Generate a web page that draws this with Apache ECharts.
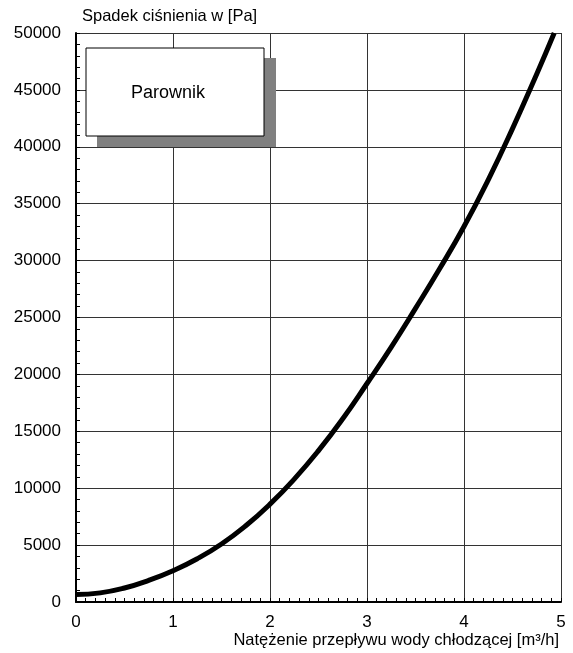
<!DOCTYPE html>
<html>
<head>
<meta charset="utf-8">
<script src="https://cdn.jsdelivr.net/npm/echarts@6/dist/echarts.min.js"></script>
<style>html,body{margin:0;padding:0;background:#fff}#c{width:573px;height:653px}</style>
</head>
<body>
<div id="c"></div>
<script>
var flowX = [0, 0.25, 0.5, 0.75, 1, 1.25, 1.5, 1.75, 2, 2.25, 2.5, 2.75, 3, 3.25, 3.5, 3.75, 4, 4.25, 4.5, 4.75, 4.93];
var pressureDrop = [650, 800, 1230, 1900, 2750, 3800, 5100, 6700, 8600, 10800, 13300, 16100, 19200, 22400, 25800, 29300, 33000, 37100, 41600, 46400, 50000];
var xTicks = [0, 1, 2, 3, 4, 5];
var yTicks = [0, 5000, 10000, 15000, 20000, 25000, 30000, 35000, 40000, 45000, 50000];
var yAxisTitle = 'Spadek ciśnienia w [Pa]';
var xAxisTitle = 'Natężenie przepływu wody chłodzącej [m³/h]';
var boxLabel = 'Parownik';

var chart = echarts.init(document.getElementById('c'));
var font = 'Liberation Sans, Arial, sans-serif';
chart.setOption({
  animation: false,
  grid: {left: 76, right: 12, top: 33, bottom: 51, containLabel: false},
  xAxis: {
    type: 'value', min: xTicks[0], max: xTicks[xTicks.length - 1], interval: 1,
    name: xAxisTitle, nameLocation: 'end', nameGap: -2,
    nameTextStyle: {color: '#000', fontSize: 16.5, fontFamily: font, align: 'right', verticalAlign: 'top', padding: [30, 0, 0, 0]},
    axisLine: {show: true, onZero: false, lineStyle: {color: '#000', width: 2}},
    axisTick: {show: true, inside: true, length: 4, lineStyle: {color: '#000'}},
    minorTick: {show: true, splitNumber: 10, length: 4, lineStyle: {color: '#000'}},
    axisLabel: {color: '#000', fontSize: 17, fontFamily: font, margin: 12},
    splitLine: {show: true, lineStyle: {color: '#333', width: 1}}
  },
  yAxis: {
    type: 'value', min: yTicks[0], max: yTicks[yTicks.length - 1], interval: 5000,
    name: yAxisTitle, nameLocation: 'end', nameGap: 8,
    nameTextStyle: {color: '#000', fontSize: 16.5, fontFamily: font, align: 'left', padding: [0, 0, 0, 6]},
    axisLine: {show: true, onZero: false, lineStyle: {color: '#000', width: 2}},
    axisTick: {show: true, inside: true, length: 4, lineStyle: {color: '#000'}},
    minorTick: {show: true, splitNumber: 5, length: 4, lineStyle: {color: '#000'}},
    axisLabel: {color: '#000', fontSize: 17, fontFamily: font, margin: 15, formatter: function (v) { return String(v); }},
    splitLine: {show: true, lineStyle: {color: '#333', width: 1}}
  },
  graphic: [
    {type: 'rect', shape: {x: 97, y: 58, width: 179, height: 89}, style: {fill: '#808080'}, z: 100},
    {type: 'rect', shape: {x: 86, y: 48, width: 178, height: 88}, style: {fill: '#fff', stroke: '#000', lineWidth: 1}, z: 101},
    {type: 'text', x: 168, y: 93, style: {text: boxLabel, fill: '#000', fontSize: 18, fontFamily: font, align: 'center', verticalAlign: 'middle'}, z: 102}
  ],
  series: [{
    type: 'line', smooth: true, showSymbol: false,
    data: flowX.map(function (x, i) { return [x, pressureDrop[i]]; }),
    lineStyle: {color: '#000', width: 5}
  }]
});
</script>
</body>
</html>
